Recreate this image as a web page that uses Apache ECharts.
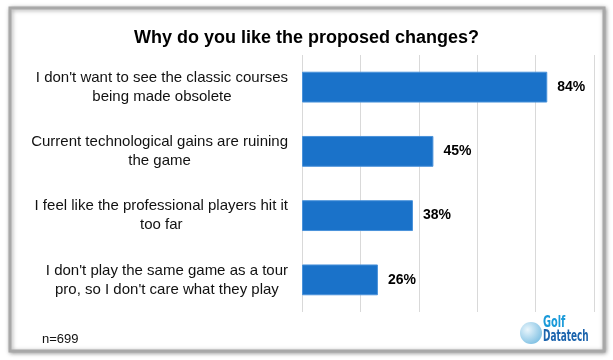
<!DOCTYPE html>
<html><head><meta charset="utf-8">
<script src="https://cdn.jsdelivr.net/npm/echarts@6/dist/echarts.min.js"></script>
<style>html,body{margin:0;padding:0;background:#fff}#c{width:613px;height:360px}</style>
</head><body><div id="c"></div>
<script>
const titleText = 'Why do you like the proposed changes?';
const categories = [
  "I don't want to see the classic courses\nbeing made obsolete",
  "Current technological gains are ruining\nthe game",
  "I feel like the professional players hit it\ntoo far",
  "I don't play the same game as a tour\npro, so I don't care what they play"
];
const values = [84, 45, 38, 26];
const axisTicks = [0, 20, 40, 60, 80, 100];
const noteText = 'n=699';

const chart = echarts.init(document.getElementById('c'), null, {renderer: 'canvas'});
const font = '"Liberation Sans", Arial, sans-serif';
const narrow = '"Liberation Sans Narrow", "DejaVu Sans Condensed", "Liberation Sans", sans-serif';
chart.setOption({
  animation: false,
  backgroundColor: '#fff',
  title: {
    text: titleText, left: 'center', top: 24,
    textStyle: {fontFamily: font, fontSize: 18, fontWeight: 'bold', color: '#000'}
  },
  grid: {left: 302, right: 19, top: 55, bottom: 48, containLabel: false},
  xAxis: {
    type: 'value', min: axisTicks[0], max: axisTicks[axisTicks.length - 1],
    interval: axisTicks[1] - axisTicks[0],
    axisLabel: {show: false}, axisLine: {show: false}, axisTick: {show: false},
    splitLine: {show: true, lineStyle: {color: '#d9d9d9', width: 1}}
  },
  yAxis: {
    type: 'category', data: categories, inverse: true,
    axisLine: {show: false}, axisTick: {show: false},
    axisLabel: {
      margin: 14, align: 'right',
      formatter: v => v.split('\n').map(s => '{c|' + s + '}').join('\n'),
      rich: {c: {align: 'center', fontFamily: font, fontSize: 15, color: '#111', lineHeight: 19}}
    }
  },
  series: [{
    type: 'bar', data: values, barWidth: '48%',
    itemStyle: {color: '#1a72c9', borderColor: '#4a92da', borderWidth: 1},
    label: {
      show: true, position: 'right', distance: 10, formatter: '{c}%',
      fontFamily: font, fontSize: 14, fontWeight: 'bold', color: '#000'
    }
  }],
  graphic: [
    {type: 'rect', z: -10, shape: {x: 10, y: 8, width: 594, height: 343},
     style: {fill: '#fff', stroke: '#a8a8a8', lineWidth: 3, shadowBlur: 4, shadowColor: 'rgba(0,0,0,0.35)', shadowOffsetX: 1, shadowOffsetY: 1}},
    {type: 'text', left: 42, top: 333,
     style: {text: noteText, fontFamily: font, fontSize: 13, fill: '#111'}},
    {type: 'circle', shape: {cx: 531, cy: 333, r: 11},
     style: {fill: {type: 'radial', x: 0.35, y: 0.35, r: 0.8, colorStops: [{offset: 0, color: '#e6f4fb'}, {offset: 1, color: '#5aaedb'}]}, opacity: 0.85}},
    {type: 'text', x: 543, y: 315, scaleX: 0.68,
     style: {text: 'Golf', fontFamily: narrow, fontSize: 16, fontWeight: 'bold', fill: '#1a9ad9'}},
    {type: 'text', x: 543, y: 329, scaleX: 0.62,
     style: {text: 'Datatech', fontFamily: narrow, fontSize: 16, fontWeight: 'bold', fill: '#1c64ad'}}
  ]
});
</script></body></html>
